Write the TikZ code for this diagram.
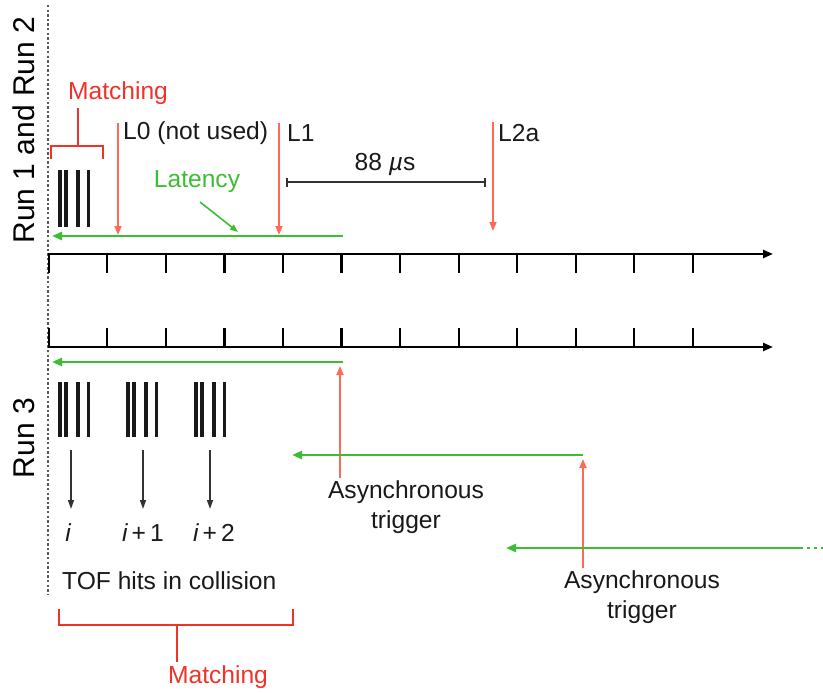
\documentclass[tikz,border=0pt]{standalone}
\usepackage{fontspec}
\setmainfont{Liberation Sans}
\usetikzlibrary{arrows.meta}
\definecolor{grn}{RGB}{60,190,50}
\definecolor{salmon}{RGB}{255,105,85}
\definecolor{matchred}{RGB}{240,50,40}
\begin{document}
\begin{tikzpicture}[x=1pt,y=-1pt,
  txt/.style={inner sep=0pt,font=\fontsize{24.6}{30}\selectfont,text=black!90},
  runlbl/.style={inner sep=0pt,font=\fontsize{30}{36}\selectfont,rotate=90},
  axisline/.style={line width=2.4pt,-{Triangle[length=10pt,width=8pt]}},
  tickline/.style={line width=2.2pt},
  latency/.style={grn,line width=2.6pt,-{Triangle[length=10pt,width=8pt]}},
  trig/.style={salmon,line width=1.8pt,-{Triangle[length=9pt,width=7pt]}},
  bracket/.style={matchred,line width=1.8pt},
  hitbar/.style={black!90,line width=3.8pt},
  downarrow/.style={black!80,line width=1.6pt,-{Triangle[length=9pt,width=6pt]}},
  span/.style={black!80,line width=1.7pt,{Bar[width=9pt]}-{Bar[width=9pt]}}]
\useasboundingbox (0,0) rectangle (823,693);

% run labels
\node[runlbl] (run12) at (24,130) {Run 1 and Run 2};
\node[runlbl] (run3) at (24,438) {Run 3};

% dotted separator
\coordinate (dtop) at (48,5);
\coordinate (dbot) at (48,595);
\draw[black!65,line width=2.6pt,dash pattern=on 2.4pt off 2.2pt] (dtop) -- (dbot);

% axes
\coordinate (a1s) at (48,254); \coordinate (a1e) at (773,254);
\coordinate (a2s) at (48,347); \coordinate (a2e) at (773,347);
\draw[axisline] (a1s) -- (a1e);
\draw[axisline] (a2s) -- (a2e);
\foreach \k in {0,...,11}{
  \coordinate (t1k\k) at (48.8+58.55*\k,254);
  \coordinate (b1k\k) at (48.8+58.55*\k,273);
  \coordinate (t2k\k) at (48.8+58.55*\k,328);
  \coordinate (b2k\k) at (48.8+58.55*\k,347);
  \draw[tickline] (t1k\k) -- (b1k\k);
  \draw[tickline] (t2k\k) -- (b2k\k);
}

% ---------- Run 1 and Run 2 ----------
% top matching bracket
\node[txt,text=matchred] (match1) at (118,93) {Matching};
\coordinate (mb1) at (51,159); \coordinate (mb2) at (51,146);
\coordinate (mb3) at (103,146); \coordinate (mb4) at (103,159);
\coordinate (ms1) at (78,146); \coordinate (ms2) at (78,108);
\draw[bracket] (mb1) -- (mb2) -- (mb3) -- (mb4);
\draw[bracket] (ms1) -- (ms2);

% hits
\foreach \dx [count=\n] in {0,6,18,28.5}{
  \coordinate (htop\n) at (60+\dx,170);
  \coordinate (hbot\n) at (60+\dx,227);
  \draw[hitbar] (htop\n) -- (hbot\n);
}

% triggers
\coordinate (l0t) at (118,123); \coordinate (l0b) at (118,235);
\coordinate (l1t) at (279,123); \coordinate (l1b) at (279,235);
\coordinate (l2t) at (493,122); \coordinate (l2b) at (493,231);
\draw[trig] (l0t) -- (l0b);
\draw[trig] (l1t) -- (l1b);
\draw[trig] (l2t) -- (l2b);
\node[txt,anchor=west] (l0) at (123,133) {L0 (not used)};
\node[txt,anchor=west] (l1) at (287,133) {L1};
\node[txt,anchor=west] (l2a) at (498,133) {L2a};

% 88 us
\coordinate (s1) at (286,182); \coordinate (s2) at (486,182);
\draw[span] (s1) -- (s2);
\node[txt] (us) at (385,164) {88 {\itshape µ}s};

% latency
\coordinate (lat1s) at (343,236); \coordinate (lat1e) at (52,236);
\draw[latency] (lat1s) -- (lat1e);
\node[txt,text=grn] (latency) at (197,182) {Latency};
\coordinate (lp1) at (200,202); \coordinate (lp2) at (238,232);
\draw[grn,line width=1.6pt,-{Triangle[length=8pt,width=6pt]}] (lp1) -- (lp2);

% ---------- Run 3 ----------
\coordinate (lat2s) at (343,362); \coordinate (lat2e) at (52,362);
\draw[latency] (lat2s) -- (lat2e);

\foreach \gx [count=\g] in {60,128,196}{
  \foreach \dx [count=\n] in {0,6,18,28.5}{
    \coordinate (gtop\g\n) at (\gx+\dx,382);
    \coordinate (gbot\g\n) at (\gx+\dx,437);
    \draw[hitbar] (gtop\g\n) -- (gbot\g\n);
  }
}

\coordinate (d1t) at (71,450); \coordinate (d1b) at (71,509);
\coordinate (d2t) at (143,450); \coordinate (d2b) at (143,509);
\coordinate (d3t) at (210,450); \coordinate (d3b) at (210,509);
\draw[downarrow] (d1t) -- (d1b);
\draw[downarrow] (d2t) -- (d2b);
\draw[downarrow] (d3t) -- (d3b);
\node[txt] (ii) at (68,533) {\itshape i};
\node[txt] (ii1) at (143,533) {{\itshape i}\,+\,1};
\node[txt] (ii2) at (214,533) {{\itshape i}\,+\,2};

\node[txt,anchor=west] (tof) at (62,581) {TOF hits in collision};

% bottom matching bracket
\coordinate (nb1) at (59,609); \coordinate (nb2) at (59,625);
\coordinate (nb3) at (293,625); \coordinate (nb4) at (293,609);
\coordinate (ns1) at (177,625); \coordinate (ns2) at (177,662);
\draw[bracket] (nb1) -- (nb2) -- (nb3) -- (nb4);
\draw[bracket] (ns1) -- (ns2);
\node[txt,text=matchred] (match2) at (218,677) {Matching};

% asynchronous triggers
\node[txt,align=center] (as1) at (406,507) {Asynchronous\\trigger};
\node[txt,align=center] (as2) at (642,597) {Asynchronous\\trigger};
\coordinate (r1b) at (340,478); \coordinate (r1t) at (340,366);
\coordinate (r2b) at (583,568); \coordinate (r2t) at (583,459);
\draw[trig] (r1b) -- (r1t);
\draw[trig] (r2b) -- (r2t);

\coordinate (g2s) at (583,455); \coordinate (g2e) at (292,455);
\draw[latency] (g2s) -- (g2e);
\coordinate (g3s) at (800,548); \coordinate (g3e) at (506,548);
\coordinate (g3x) at (823,548);
\draw[latency] (g3s) -- (g3e);
\draw[grn,line width=2.6pt,dash pattern=on 3pt off 4pt] (g3s) -- (g3x);
\end{tikzpicture}
\end{document}
